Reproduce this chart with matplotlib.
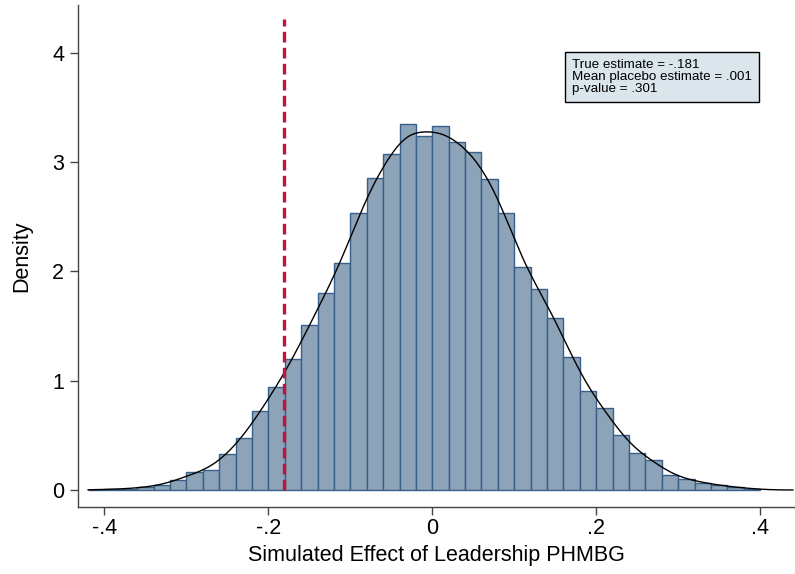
import numpy as np
import matplotlib
matplotlib.use("Agg")
import matplotlib.pyplot as plt

plt.rcParams['font.family'] = ['Liberation Sans', 'DejaVu Sans']

# Histogram bins (left edges) and densities
bin_width = 0.02
bin_left = [round(-0.42 + 0.02 * i, 2) for i in range(41)]
density = [0.003, 0.006, 0.012, 0.025, 0.043, 0.092, 0.162, 0.183, 0.333, 0.479,
           0.724, 0.940, 1.196, 1.507, 1.806, 2.078, 2.530, 2.856, 3.075, 3.347,
           3.243, 3.326, 3.180, 3.090, 2.844, 2.533, 2.044, 1.843, 1.571, 1.220,
           0.908, 0.748, 0.500, 0.342, 0.272, 0.137, 0.098, 0.067, 0.043, 0.025,
           0.012]
true_estimate = -0.181
line_top = 4.31
x_ticks = [-0.4, -0.2, 0, 0.2, 0.4]
x_ticklabels = ['-.4', '-.2', '0', '.2', '.4']
y_ticks = [0, 1, 2, 3, 4]
box_text = "True estimate = -.181\nMean placebo estimate = .001\np-value = .301"

fig = plt.figure(figsize=(7.95, 5.74), dpi=100)
ax = fig.add_axes([78/795, 1-507/574, 1-78/795, (507-5)/574])

ax.bar(bin_left, density, width=bin_width, align='edge',
       color='#8CA3B8', edgecolor='#3A5F88', linewidth=1.0, zorder=2)

# Kernel density smoothed from the histogram
centers = np.array(bin_left) + bin_width / 2
w = np.array(density) * bin_width
bw = 0.019
xs = np.linspace(-0.42, 0.44, 400)
ks = (w[None, :] * np.exp(-0.5 * ((xs[:, None] - centers[None, :]) / bw) ** 2)
      / (bw * np.sqrt(2 * np.pi))).sum(axis=1)
ax.plot(xs, ks, color='black', lw=1.0, zorder=3)

ax.plot([true_estimate, true_estimate], [0, line_top], color='#C8103A', lw=2.4,
        dashes=(3.2, 1.6), zorder=4)

ax.set_xlim((78-432.3)/819.5, (795-432.3)/819.5)
ax.set_ylim(-(507-490)/109.3, (490-5)/109.3)
ax.set_xticks(x_ticks)
ax.set_xticklabels(x_ticklabels)
ax.set_yticks(y_ticks)
ax.tick_params(axis='both', labelsize=15.5, length=6, width=1, color='#444444')
ax.tick_params(axis='x', pad=2)
ax.tick_params(axis='y', pad=4)
for s in ['top', 'right']:
    ax.spines[s].set_visible(False)
for s in ['left', 'bottom']:
    ax.spines[s].set_color('#444444')
    ax.spines[s].set_linewidth(1.0)
ax.set_xlabel('Simulated Effect of Leadership PHMBG', fontsize=15.5, labelpad=4)
ax.set_ylabel('Density', fontsize=15.5, labelpad=14)

fig.text(572/795, 1-77/574, box_text, fontsize=9.6, va='center', ha='left',
         linespacing=1.02,
         bbox=dict(boxstyle='square,pad=0.5', facecolor='#DAE6EC', edgecolor='black', linewidth=1.0))

fig.savefig('out.png', dpi=100)
